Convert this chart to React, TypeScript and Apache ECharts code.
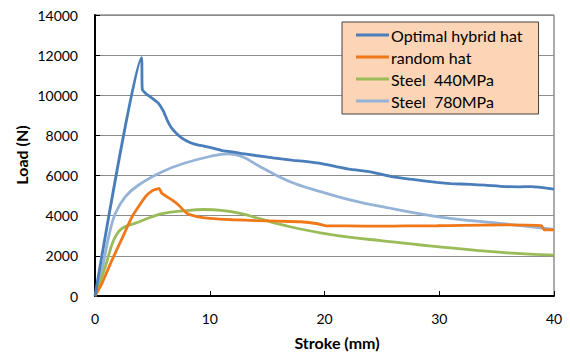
import React, { useEffect, useRef } from "react";
import * as echarts from "echarts";

const seriesNames = ["Optimal hybrid hat", "random hat", "Steel  440MPa", "Steel  780MPa"];
const seriesColors = ["#4A7EBB", "#F07818", "#9BBB59", "#95B3D7"];

const optimalHybridHat: [number, number][] = [
  [0, 0], [4.05, 11880], [4.12, 10300], [4.5, 10050], [5.0, 9850], [5.5, 9620],
  [5.97, 9200], [6.3, 8750], [6.7, 8350], [7.4, 7940], [8.0, 7720], [8.6, 7580],
  [9.2, 7500], [10.0, 7400], [11.0, 7260], [11.8, 7190], [12.7, 7110], [14.0, 7000],
  [15.5, 6880], [17.3, 6760], [18.5, 6700], [19.65, 6610], [21.0, 6450], [22.3, 6310],
  [24.0, 6190], [25.8, 5950], [27.5, 5820], [29.8, 5660], [31.0, 5600], [32.75, 5560],
  [34.0, 5520], [35.7, 5450], [37.0, 5440], [38.0, 5450], [39.0, 5400], [40.0, 5330],
];

const randomHat: [number, number][] = [
  [0, 0], [0.61, 630], [1.48, 1790], [2.36, 2870], [3.23, 3950], [4.4, 4950],
  [5.0, 5250], [5.4, 5330], [5.6, 5360], [5.82, 5120], [6.26, 4950], [6.8, 4750],
  [7.28, 4530], [8.0, 4120], [8.88, 3960], [10.0, 3870], [12.0, 3800], [14.0, 3760],
  [16.0, 3730], [17.9, 3700], [19.4, 3600], [20.2, 3490], [22.0, 3490], [24.9, 3480],
  [27.0, 3490], [29.8, 3500], [32.0, 3520], [35.7, 3540], [38.9, 3500], [39.15, 3300],
  [40.0, 3290],
];

const steel440: [number, number][] = [
  [0, 0], [0.9, 1460], [1.63, 2790], [2.36, 3370], [3.52, 3630],
  [5.85, 4100], [7.7, 4240], [9.5, 4310], [11.0, 4270], [12.66, 4120], [14.4, 3840],
  [17.0, 3450], [19.65, 3150], [22.3, 2920], [24.9, 2760], [29.8, 2460],
  [35.7, 2160], [40.0, 2040],
];

const steel780: [number, number][] = [
  [0, 0], [0.61, 1300], [1.19, 2955], [1.78, 4120], [2.65, 4950], [3.8, 5530],
  [5.85, 6190], [7.7, 6600], [10.0, 6950], [11.6, 7080], [12.8, 6950], [14.4, 6440],
  [17.0, 5690], [19.65, 5200], [22.3, 4780], [24.9, 4460], [29.8, 3960],
  [35.7, 3590], [40.0, 3320],
];

const xTicks = { min: 0, max: 40, interval: 10 };
const yTicks = { min: 0, max: 14000, interval: 2000 };

const xTitle = "Stroke (mm)";
const yTitle = "Load (N)";

export default function App() {
  const ref = useRef<HTMLDivElement>(null);
  useEffect(() => {
    if (!ref.current) return;
    const chart = echarts.init(ref.current, undefined, { renderer: "svg" });
    const font = "Lato, 'Open Sans', sans-serif";
    const datasets = [optimalHybridHat, randomHat, steel440, steel780];
    chart.setOption({
      animation: false,
      textStyle: { fontFamily: font },
      grid: {
        left: 95, right: 16, top: 15, bottom: 56,
        show: true, borderColor: "#595959", borderWidth: 1,
      },
      xAxis: {
        type: "value", ...xTicks,
        axisLine: { show: true, onZero: false, lineStyle: { color: "#000", width: 2 } },
        axisTick: { show: true, inside: true, length: 5, lineStyle: { color: "#000", width: 1 } },
        axisLabel: { color: "#000", fontSize: 14, margin: 15, fontFamily: font },
        splitLine: { show: false },
      },
      yAxis: {
        type: "value", ...yTicks,
        axisLine: { show: true, lineStyle: { color: "#000", width: 2 } },
        axisTick: { show: true, inside: true, length: 5, lineStyle: { color: "#000", width: 1 } },
        axisLabel: { color: "#000", fontSize: 14, margin: 17, fontFamily: font, formatter: (v: number) => String(v) },
        splitLine: { show: true, lineStyle: { color: "#8C8C8C", width: 1 } },
      },
      legend: {
        orient: "vertical",
        left: 342, top: 22,
        backgroundColor: "#FBD5B5",
        borderColor: "#404040", borderWidth: 1,
        padding: [5, 16, 5, 14],
        icon: "rect",
        itemWidth: 33, itemHeight: 3, itemGap: 6,
        textStyle: { color: "#000", fontSize: 16, fontFamily: font, padding: [0, 0, 0, -3] },
        data: seriesNames,
      },
      graphic: [
        {
          type: "text", x: 337, y: 342,
          style: { text: xTitle, fontSize: 16, fontWeight: "bold", fontFamily: font, fill: "#000", align: "center", verticalAlign: "middle" },
        },
        {
          type: "text", x: 21, y: 155, rotation: Math.PI / 2,
          style: { text: yTitle, fontSize: 16, fontWeight: "bold", fontFamily: font, fill: "#000", align: "center", verticalAlign: "middle" },
        },
      ],
      series: seriesNames.map((name, i) => ({
        name, type: "line", data: datasets[i],
        showSymbol: false, symbol: "none",
        smooth: i >= 2 ? 0.4 : 0.15,
        z: 10 - i,
        lineStyle: { color: seriesColors[i], width: 2.8 },
        itemStyle: { color: seriesColors[i] },
      })),
    });
    return () => chart.dispose();
  }, []);
  return <div ref={ref} style={{ width: 570, height: 352, position: "absolute", left: 0, top: 0 }} />;
}
